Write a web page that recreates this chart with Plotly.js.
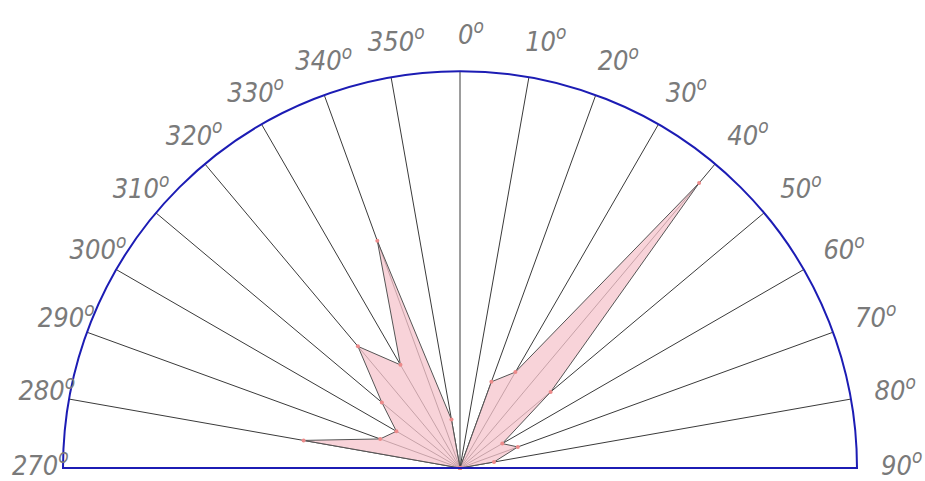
<!DOCTYPE html>
<html>
<head>
<meta charset="utf-8">
<script src="https://cdn.plot.ly/plotly-3.0.1.min.js"></script>
<style>html,body{margin:0;padding:0;background:#fff;}#chart{width:925px;height:481px;}</style>
</head>
<body>
<div id="chart"></div>
<script>
// Direction (degrees, 0 = north, clockwise; west side given as negative bearings)
const directions = [-90, -80, -70, -60, -50, -40, -30, -20, -10, 0, 10, 20, 30, 40, 50, 60, 70, 80, 90];
// Relative frequency (% of outer radius)
const frequency = [0, 40, 21.4, 18.5, 25.7, 40, 30, 60.9, 12.4, 0, 0, 23.1, 27.9, 93.7, 29.8, 12.3, 15.5, 8.7, 0];
// Angular tick positions and labels
const tickAngles = [-90, -80, -70, -60, -50, -40, -30, -20, -10, 0, 10, 20, 30, 40, 50, 60, 70, 80, 90];
const tickNames = ['270', '280', '290', '300', '310', '320', '330', '340', '350', '0', '10', '20', '30', '40', '50', '60', '70', '80', '90'];
const tickLabels = tickNames.map(a => a + '<sup>o</sup>');

const W = 925, H = 481;
const CX = 460, CY = 468;     // pole position in pixels
const R1 = 397;               // radius of the rose
const R2 = 450;               // radius of the label frame
const LABEL_DX = 11;          // label frame nudged right (labels sit right of their spokes)
const RMAX = 100;
const LABEL_R = 108.5;        // label centres just outside the outer circle (same units as data)

const plotH = CY;             // plot area height (bottom margin = H - CY)
const dom1 = {x: [(CX - R1) / W, (CX + R1) / W], y: [0, R1 / plotH]};
const dom2 = {x: [(CX + LABEL_DX - R2) / W, (CX + LABEL_DX + R2) / W], y: [0, R2 / plotH]};

const rose = {
  type: 'scatterpolar',
  subplot: 'polar',
  r: frequency.concat([frequency[0]]),
  theta: directions.concat([directions[0]]),
  mode: 'lines+markers',
  fill: 'toself',
  fillcolor: 'rgba(246,196,204,0.75)',
  line: {color: '#555555', width: 1},
  marker: {color: '#ec8a8a', size: 4},
  hoverinfo: 'skip'
};

const labels = {
  type: 'scatterpolar',
  subplot: 'polar2',
  r: tickAngles.map(() => LABEL_R),
  theta: tickAngles,
  text: tickLabels,
  mode: 'text',
  textposition: 'middle center',
  cliponaxis: false,
  textfont: {family: 'Liberation Sans Narrow, DejaVu Sans Condensed, sans-serif', size: 27, color: '#7a7a7a', style: 'italic'},
  hoverinfo: 'skip'
};

const angularCommon = {rotation: 90, direction: 'clockwise'};

const layout = {
  width: W, height: H,
  margin: {l: 0, r: 0, t: 0, b: H - CY},
  paper_bgcolor: '#ffffff',
  showlegend: false,
  polar: {
    domain: dom1,
    sector: [0, 180],
    bgcolor: '#ffffff',
    radialaxis: {range: [0, RMAX], visible: true, showline: false, showgrid: false, showticklabels: false, ticks: ''},
    angularaxis: Object.assign({}, angularCommon, {
      tickmode: 'array',
      tickvals: tickAngles,
      showticklabels: false,
      ticks: '',
      showline: true,
      linecolor: '#1c1cb4',
      linewidth: 2,
      showgrid: true,
      gridcolor: '#3a3a3a',
      gridwidth: 1
    })
  },
  polar2: {
    domain: dom2,
    sector: [0, 180],
    bgcolor: 'rgba(0,0,0,0)',
    radialaxis: {range: [0, RMAX * R2 / R1], visible: false},
    angularaxis: Object.assign({}, angularCommon, {visible: false})
  }
};

Plotly.newPlot('chart', [rose, labels], layout, {staticPlot: true, displayModeBar: false});
</script>
</body>
</html>
